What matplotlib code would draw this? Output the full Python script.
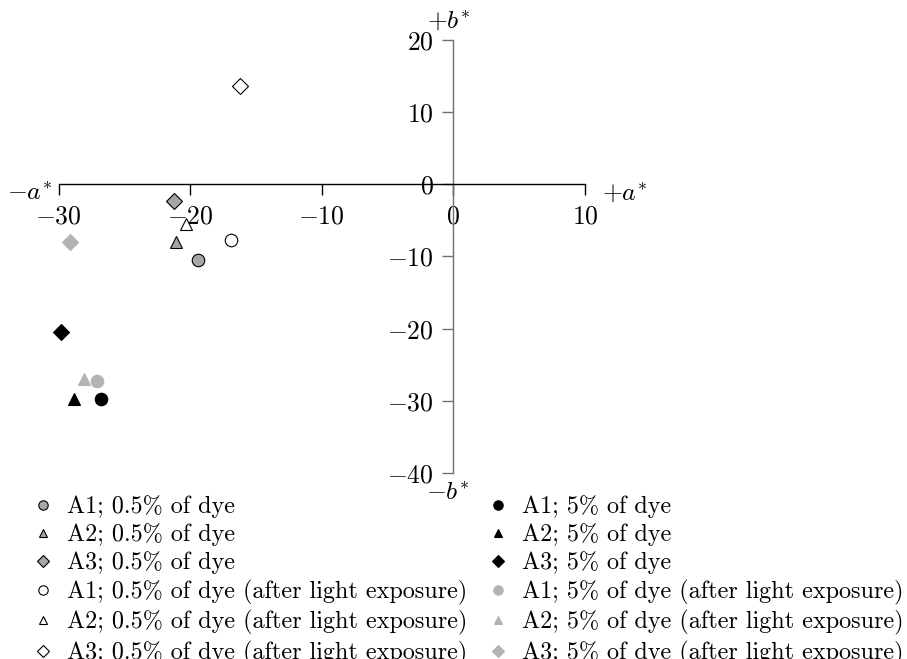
import matplotlib
matplotlib.use('Agg')
import matplotlib.pyplot as plt

plt.rcParams['font.family'] = 'serif'
plt.rcParams['font.serif'] = ['cmr10', 'DejaVu Serif']
plt.rcParams['mathtext.fontset'] = 'cm'
plt.rcParams['axes.formatter.use_mathtext'] = True

# data (a*, b*)
labels = [
    'A1; 0.5% of dye',
    'A2; 0.5% of dye',
    'A3; 0.5% of dye',
    'A1; 0.5% of dye (after light exposure)',
    'A2; 0.5% of dye (after light exposure)',
    'A3; 0.5% of dye (after light exposure)',
    'A1; 5% of dye',
    'A2; 5% of dye',
    'A3; 5% of dye',
    'A1; 5% of dye (after light exposure)',
    'A2; 5% of dye (after light exposure)',
    'A3; 5% of dye (after light exposure)',
]
a_vals = [-19.4, -21.1, -21.2, -16.9, -20.3, -16.2,
          -26.8, -28.8, -29.8, -27.1, -28.1, -29.1]
b_vals = [-10.5, -8.0, -2.35, -7.7, -5.5, 13.6,
          -29.8, -29.7, -20.5, -27.2, -27.0, -8.0]

x_ticks = [-30, -20, -10, 0, 10]
y_ticks = [-40, -30, -20, -10, 0, 10, 20]

# styles: marker, face, edge
styles = [
    ('o', '#a6a6a6', 'black'),
    ('^', '#a6a6a6', 'black'),
    ('D', '#a6a6a6', 'black'),
    ('o', 'white', 'black'),
    ('^', 'white', 'black'),
    ('D', 'white', 'black'),
    ('o', 'black', 'black'),
    ('^', 'black', 'black'),
    ('D', 'black', 'black'),
    ('o', '#b3b3b3', '#b3b3b3'),
    ('^', '#b3b3b3', '#b3b3b3'),
    ('D', '#b3b3b3', '#b3b3b3'),
]
sizes = {'o': 9, '^': 8.5, 'D': 8}

fs = 18.5

fig = plt.figure(figsize=(9.07, 6.59), dpi=100)
ax = fig.add_axes([0.0645, 0.2823, 0.5805, 0.657])

handles = []
for i in range(len(labels)):
    m, fc, ec = styles[i]
    h, = ax.plot(a_vals[i], b_vals[i], linestyle='none', marker=m,
                 markersize=sizes[m], markerfacecolor=fc, markeredgecolor=ec,
                 markeredgewidth=0.8, label=labels[i], zorder=3, clip_on=False)
    handles.append(h)

ax.set_xlim(-30, 10)
ax.set_ylim(-40, 20)
ax.spines['top'].set_visible(False)
ax.spines['right'].set_visible(False)
ax.spines['left'].set_position(('data', 0))
ax.spines['bottom'].set_position(('data', 0))
ax.spines['left'].set_color('#707070')
ax.spines['bottom'].set_color('black')
ax.spines['left'].set_linewidth(1.0)
ax.spines['bottom'].set_linewidth(1.0)

ax.set_xticks(x_ticks)
ax.set_xticklabels([f'${v}$' for v in x_ticks])
ax.set_yticks(y_ticks)
ax.set_yticklabels([f'${v}$' for v in y_ticks])
ax.tick_params(axis='x', direction='out', length=8, width=1.0, pad=7,
               labelsize=fs, color='black')
ax.tick_params(axis='y', direction='out', length=8, width=1.0, pad=6,
               labelsize=fs, color='#707070')

ax.annotate(r'$-a^{*}$', xy=(-30, 0), xytext=(-5, -6), textcoords='offset points',
            ha='right', va='center', fontsize=fs)
ax.annotate(r'$+a^{*}$', xy=(10, 0), xytext=(12, -6), textcoords='offset points',
            ha='left', va='center', fontsize=fs)
ax.annotate(r'$+b^{*}$', xy=(0, 20), xytext=(-3, 5), textcoords='offset points',
            ha='center', va='bottom', fontsize=fs)
ax.annotate(r'$-b^{*}$', xy=(0, -40), xytext=(-4, -6), textcoords='offset points',
            ha='center', va='top', fontsize=fs)

fig.legend(handles=handles, ncol=2, loc='upper left',
           bbox_to_anchor=(0.022, 0.267), frameon=False, fontsize=17.4,
           markerscale=0.75, handlelength=0.9, handletextpad=0.55,
           columnspacing=0.8, labelspacing=0.22, borderpad=0)

fig.savefig('out.png', dpi=100)
